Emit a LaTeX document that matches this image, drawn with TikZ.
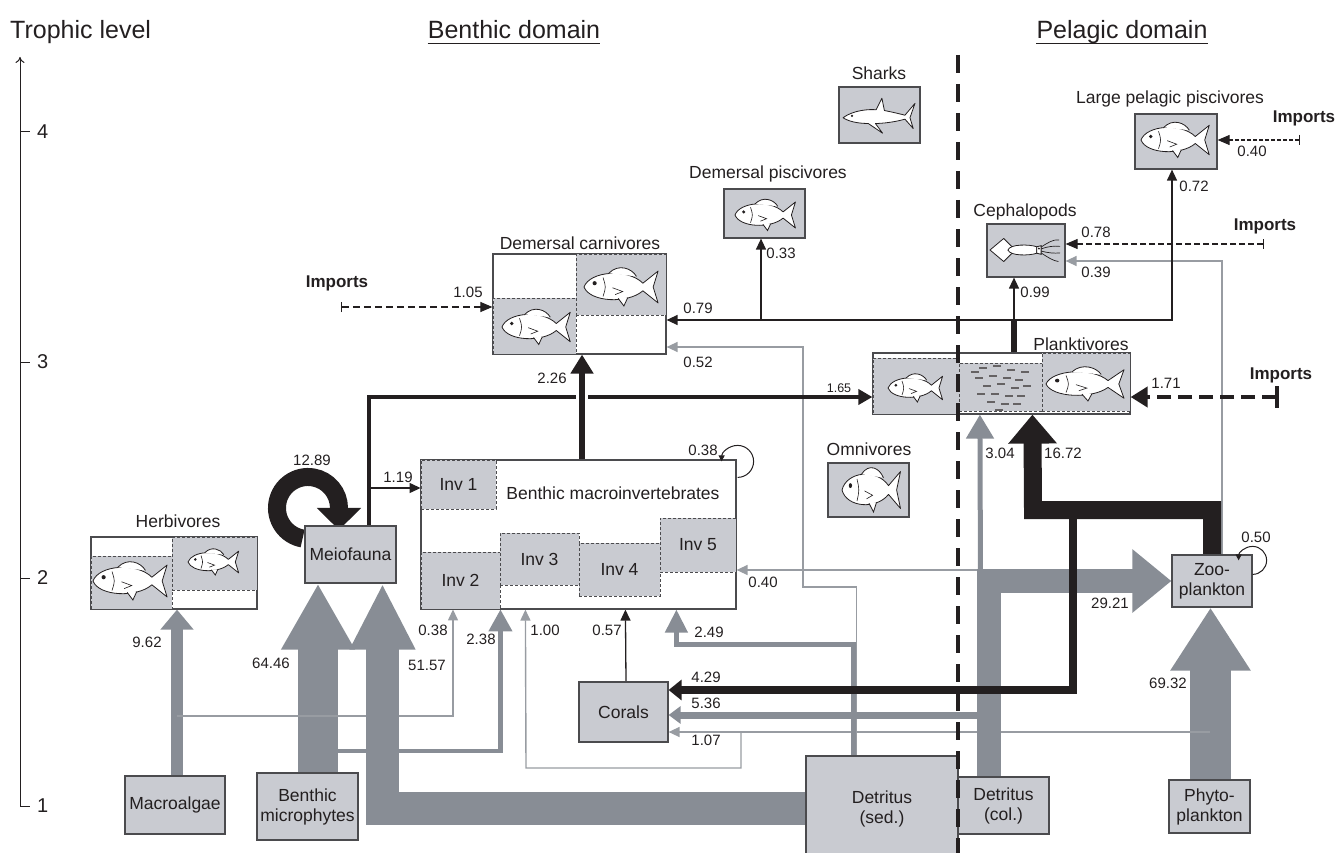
\documentclass[tikz,border=0pt]{standalone}
\usepackage{fontspec}
\setmainfont{Liberation Sans}
\usetikzlibrary{arrows.meta,calc}
\pgfdeclarelayer{bg}
\pgfsetlayers{bg,main}
\definecolor{boxfill}{RGB}{201,203,209}
\definecolor{flowgray}{RGB}{136,141,149}
\definecolor{thingray}{RGB}{152,156,162}
\definecolor{ink}{RGB}{35,31,32}
\definecolor{edgec}{RGB}{75,75,78}
\newcommand{\fsA}{\fontsize{17.5}{20}\selectfont}
\newcommand{\fsN}{\fontsize{15}{17}\selectfont}
\newcommand{\fsS}{\fontsize{12.5}{14}\selectfont}
\newcommand{\fsT}{\fontsize{25}{28}\selectfont}
\newcommand{\fsX}{\fontsize{20}{22}\selectfont}
\newcommand{\fsI}{\fontsize{17}{20}\selectfont\bfseries}
\tikzset{
 fish/.pic={
  \draw[ink, line width=0.8pt, fill=white, line join=round]
   (-1,0) .. controls (-0.85,-0.42) and (0.15,-0.5) .. (0.55,-0.1)
   -- (0.95,-0.42) -- (0.82,0) -- (0.95,0.42) -- (0.55,0.1)
   .. controls (0.15,0.45) and (-0.85,0.4) .. cycle;
  \draw[ink, line width=0.8pt, fill=white] (-0.35,-0.36) .. controls (-0.1,-0.62) and (0.25,-0.5) .. (0.38,-0.28);
  \draw[ink, line width=0.8pt, fill=white] (-0.1,0.3) -- (0.05,0.5) -- (0.15,0.28);
  \fill[ink] (-0.72,-0.1) circle (0.055);
  \draw[ink, line width=0.6pt] (-0.5,-0.25) .. controls (-0.42,0) .. (-0.5,0.25);
  \draw[ink, line width=0.6pt] (-0.25,0.02) -- (0.02,0.12) -- (-0.18,0.2);
 },
 shark/.pic={
  \draw[ink, line width=0.8pt, fill=white, line join=round]
   (-1,0.02) .. controls (-0.7,-0.2) and (-0.25,-0.22) .. (-0.08,-0.2)
   -- (0.08,-0.52) -- (0.15,-0.18)
   .. controls (0.45,-0.12) and (0.6,-0.08) .. (0.72,-0.05)
   -- (1,-0.38) -- (0.86,0.02) -- (0.95,0.32) -- (0.72,0.06)
   .. controls (0.45,0.14) and (0.1,0.18) .. (-0.1,0.18)
   -- (0.1,0.45) -- (-0.3,0.18)
   .. controls (-0.6,0.18) and (-0.85,0.12) .. cycle;
  \fill[ink] (-0.75,-0.03) circle (0.035);
 },
 squid/.pic={
  \draw[ink, line width=0.8pt, fill=white, line join=round] (-1,0) -- (-0.62,-0.32) -- (-0.3,0) -- (-0.62,0.32) -- cycle;
  \draw[ink, line width=0.8pt, fill=white] (-0.5,0) .. controls (-0.45,-0.17) and (0.1,-0.16) .. (0.3,-0.09) -- (0.3,0.09) .. controls (0.1,0.16) and (-0.45,0.17) .. cycle;
  \draw[ink, line width=0.8pt, fill=white] (0.3,-0.09) -- (0.42,-0.12) -- (0.42,0.12) -- (0.3,0.09) -- cycle;
  \draw[ink, line width=0.7pt] (0.42,-0.08) .. controls (0.6,-0.2) and (0.75,-0.3) .. (0.92,-0.28);
  \draw[ink, line width=0.7pt] (0.42,-0.03) .. controls (0.6,-0.1) and (0.8,-0.12) .. (0.95,-0.1);
  \draw[ink, line width=0.7pt] (0.42,0.03) .. controls (0.6,0.08) and (0.8,0.1) .. (0.95,0.08);
  \draw[ink, line width=0.7pt] (0.42,0.08) .. controls (0.6,0.2) and (0.75,0.3) .. (0.9,0.32);
  \fill[ink] (0.36,-0.04) circle (0.03);
 }
}
\begin{document}
\begin{tikzpicture}[x=1pt,y=-1pt,
  box/.style={draw=edgec, line width=1.2pt, fill=boxfill, inner sep=0pt, text=ink, font=\fsA, align=center},
  wbox/.style={draw=edgec, line width=1.2pt, fill=white, inner sep=0pt},
  panel/.style={draw=edgec, line width=0.9pt, dash pattern=on 3pt off 2pt, fill=boxfill, inner sep=0pt, text=ink, font=\fsA},
  lbl/.style={font=\fsN, text=ink, inner sep=0pt},
  ttl/.style={font=\fsA, text=ink, inner sep=0pt},
  imp/.style={font=\fsI, text=ink, inner sep=0pt},
  gflow/.style={draw=flowgray, line join=miter},
  tflow/.style={draw=thingray, line width=1.4pt, -{Triangle[width=10pt,length=11pt]}},
  bflow/.style={draw=ink, line width=1.3pt, -{Triangle[width=10pt,length=11pt]}},
  impline/.style={draw=ink, line width=1.1pt, {Bar[width=10pt]}-{Triangle[width=10pt,length=12pt]}},
]
\useasboundingbox (0,0) rectangle (1335,853);

% ---------- titles and axis ----------
\node[font=\fsT, text=ink, inner sep=0pt, anchor=base west] (tl) at (10,39) {Trophic level};
\node[font=\fsT, text=ink, inner sep=0pt, anchor=base] (bd) at (514,39) {Benthic domain};
\node[font=\fsT, text=ink, inner sep=0pt, anchor=base] (pd) at (1122,39) {Pelagic domain};
\draw[ink, line width=1pt] ($(bd.base west)+(0,5)$) -- ($(bd.base east)+(0,5)$);
\draw[ink, line width=1pt] ($(pd.base west)+(0,5)$) -- ($(pd.base east)+(0,5)$);
\draw[ink, line width=1pt, -{To[length=6pt,width=9pt]}] (20,806) -- (20,57);
\foreach \yy/\tt in {132/4, 362/3, 578/2, 806/1}{
  \draw[ink, line width=1pt] (20,\yy) -- (30,\yy);
  \node[font=\fsX, text=ink, inner sep=0pt, anchor=west] (ax\tt) at (37,\yy) {\tt};
}

% ---------- simple boxes ----------
\node[box, minimum width=100pt, minimum height=58pt] (macro) at (175,805) {Macroalgae};
\node[box, minimum width=101pt, minimum height=67pt] (bmicro) at (307.5,806.5) {Benthic\\microphytes};
\node[box, minimum width=91pt, minimum height=57pt] (meio) at (350.5,554.5) {Meiofauna};
\node[box, minimum width=89pt, minimum height=60pt] (corals) at (623.5,712) {Corals};
\node[box, minimum width=152pt, minimum height=106pt] (detsed) at (882,809) {Detritus\\(sed.)};
\node[box, minimum width=91pt, minimum height=57pt] (detcol) at (1003.5,805.5) {Detritus\\(col.)};
\node[box, minimum width=81pt, minimum height=53pt] (phyto) at (1209.5,806.5) {Phyto-\\plankton};
\node[box, minimum width=80pt, minimum height=52pt] (zoo) at (1212,581) {Zoo-\\plankton};

% ---------- benthic macroinvertebrates ----------
\node[wbox, minimum width=315pt, minimum height=149pt] (bmacro) at (578.5,534.5) {};
\node[panel, minimum width=75pt, minimum height=49pt] (inv1) at (458.5,484.5) {Inv 1};
\node[panel, minimum width=79pt, minimum height=57pt] (inv2) at (460.5,580.5) {Inv 2};
\node[panel, minimum width=79pt, minimum height=52pt] (inv3) at (539.5,559) {Inv 3};
\node[panel, minimum width=81pt, minimum height=53pt] (inv4) at (619.5,569.5) {Inv 4};
\node[panel, minimum width=76pt, minimum height=54pt] (inv5) at (698,545) {Inv 5};
\node[ttl] (bmtext) at (613,493) {Benthic macroinvertebrates};

% ---------- herbivores ----------
\node[wbox, minimum width=166pt, minimum height=72pt] (herb) at (174,573) {};
\node[panel, minimum width=81pt, minimum height=53pt] (herbL) at (131.5,582.5) {};
\node[panel, minimum width=85pt, minimum height=53pt] (herbR) at (214.5,563.5) {};
\node[ttl] (herbt) at (178,521) {Herbivores};
\pic[scale=38] at (131,581) {fish};
\pic[scale=26] at (214,562) {fish};

% ---------- demersal carnivores ----------
\node[wbox, minimum width=173pt, minimum height=100pt] (demcarn) at (579.5,304) {};
\node[panel, minimum width=83pt, minimum height=56pt] (dcL) at (534.5,326) {};
\node[panel, minimum width=90pt, minimum height=61pt] (dcR) at (621,284.5) {};
\node[ttl] (demcarnt) at (580,243) {Demersal carnivores};
\pic[scale=35] at (537,327) {fish};
\pic[scale=38] at (622,287) {fish};

% ---------- planktivores ----------
\node[wbox, minimum width=257pt, minimum height=61pt] (plank) at (1001.5,383.5) {};
\node[panel, minimum width=86pt, minimum height=56pt] (plL) at (916,386) {};
\node[panel, minimum width=83pt, minimum height=48pt] (plM) at (1000.5,387) {};
\node[panel, minimum width=88pt, minimum height=58pt] (plR) at (1086,382) {};
\node[ttl] (plankt) at (1081,344) {Planktivores};
\pic[scale=28] at (916,388) {fish};
\pic[xscale=40, yscale=34] at (1086,384) {fish};
\foreach \dx/\dy in {-18/-18,-4/-20,10/-16,-22/-8,-8/-10,6/-8,18/-6,-14/0,0/-2,14/2,26/0,-20/8,-6/8,8/10,20/10,-10/16,4/18,16/18,-2/24,-26/-14,24/-14}{
  \draw[ink!70, line width=1.6pt] ($(1001,386)+(\dx-4,\dy)$) -- ++(8,0);
}

% ---------- other groups ----------
\node[box, minimum width=81pt, minimum height=49pt] (dempisc) at (764.5,213.5) {};
\node[ttl] (dempisct) at (768,174) {Demersal piscivores};
\pic[scale=31] at (766,215) {fish};
\node[box, minimum width=81pt, minimum height=56pt] (sharks) at (879.5,115) {};
\node[ttl] (sharkst) at (879,73) {Sharks};
\pic[scale=36] at (879,117) {shark};
\node[box, minimum width=78pt, minimum height=53pt] (ceph) at (1026,250.5) {};
\node[ttl] (cepht) at (1025,212) {Cephalopods};
\pic[scale=36] at (1026,250) {squid};
\node[box, minimum width=82pt, minimum height=55pt] (large) at (1176,141.5) {};
\node[ttl] (larget) at (1170,99) {Large pelagic piscivores};
\pic[scale=35] at (1176,140) {fish};
\node[box, minimum width=81pt, minimum height=54pt] (omni) at (868.5,490) {};
\node[ttl] (omnit) at (869,449) {Omnivores};
\pic[xscale=30, yscale=44] at (872,490) {fish};

% ---------- flows (below boxes) ----------
\begin{pgfonlayer}{bg}
% thick gray
\draw[gflow, line width=12pt, -{Triangle[width=32pt,length=20pt]}] ($(macro.north)+(2,0)$) -- ($(herb.south)+(3,0)$);
\draw[gflow, line width=40pt, -{Triangle[width=69pt,length=66pt]}] ($(bmicro.north)+(10.5,0)$) -- ($(meio.south)+(-32.5,0)$);
\draw[gflow, line width=41pt, -{Triangle[width=76pt,length=63pt]}] ($(phyto.north)+(1,0)$) -- ($(zoo.south)+(-1.5,0)$);
% thin gray
\coordinate (c038) at (177,716);
\draw[tflow] (c038) -| ($(inv2.south)+(-7.5,0)$);
\coordinate (c107) at (1210,732);
\draw[tflow] (c107) -- (corals.east |- c107);
\coordinate (c100) at (741,732);
\draw[tflow] (c100) |- (526,768) -- ($(bmacro.south west)+(105,0)$);
\coordinate (c040) at (985,570);
\draw[tflow] (c040) -- (bmacro.east |- c040);
\draw[tflow] ($(detsed.north west)+(51,0)$) |- (803,587) |- ($(demcarn.east)+(0,43)$);
\draw[tflow] ($(zoo.north)+(10,0)$) |- ($(ceph.east)+(0,10.5)$);
% medium gray
\coordinate (c238) at (318,751);
\draw[gflow, line width=4.5pt, -{Triangle[width=23pt,length=22pt]}] (c238) -| (inv2.south east);
\draw[gflow, line width=4.5pt, -{Triangle[width=22pt,length=23pt]}] ($(detsed.north west)+(48,0)$) |- ($(bmacro.south west)+(256,35)$) -- ($(bmacro.south west)+(256,0)$);
\coordinate (c536) at (985,715);
\draw[gflow, line width=7pt, -{Triangle[width=17pt,length=12pt]}] (c536) -- (corals.east |- c536);
% big bands
\draw[gflow, line width=33pt, -{Triangle[width=61pt,length=66pt]}] ($(detsed.west)+(0,-1)$) -| ($(meio.south)+(32,0)$);
\draw[gflow, line width=23.5pt, -{Triangle[width=61pt,length=39pt]}] ($(detcol.north west)+(31.5,0)$) |- (zoo.west);
\coordinate (c304) at (980.5,585);
\draw[gflow, line width=5pt, -{Triangle[width=27pt,length=24pt]}] (c304) -- ($(plank.south west)+(107.5,0)$);
% black flows
\coordinate (c1672) at (1033,510);
\draw[ink, line width=18pt, line join=miter, -{Triangle[width=47pt,length=29pt]}] (zoo.north) |- (c1672) -- ($(plank.south west)+(160,0)$);
\coordinate (c429) at (1073,512);
\draw[ink, line width=8pt, line join=miter, -{Triangle[width=20pt,length=13pt]}] (c429) |- ($(corals.east)+(0,-22)$);
\draw[ink, line width=4pt, line join=miter, -{Triangle[width=15pt,length=14pt]}] ($(meio.north)+(18.5,0)$) |- ($(plank.west)+(0,13.5)$);
\coordinate (c119) at (369,488);
\draw[bflow] (c119) -- (inv1.west |- c119);
\draw[bflow] ($(corals.north)+(2.5,0)$) -- ($(bmacro.south west)+(205,0)$);
\draw[white, line width=12pt] ($(bmacro.north)+(3.5,-50)$) -- ($(bmacro.north)+(3.5,-80)$);
\draw[ink, line width=6pt, -{Triangle[width=22pt,length=19pt]}] ($(bmacro.north)+(3.5,0)$) -- ($(demcarn.south)+(2.5,0)$);
\coordinate (c320) at (1014,320);
\draw[ink, line width=6pt] ($(plank.north)+(12.5,0)$) -- (c320);
\draw[bflow] (c320) -- ($(demcarn.east)+(0,16)$);
\coordinate (c033) at (761,320);
\draw[bflow] (c033) -- (dempisc.south -| c033);
\draw[bflow] (c320) -- (ceph.south -| c320);
\draw[bflow] (c320) -| ($(large.south)+(-4,0)$);
% self loops
\draw[ink, line width=18pt, -{Triangle[width=43pt,length=22pt]}] (302.6,538.5) arc[start angle=100, end angle=360, radius=31] -- ++(0,22);
\end{pgfonlayer}
\draw[ink, line width=1pt, -{Triangle[width=6pt,length=6pt]}] ($(bmacro.north east)+(1,18)$) arc[start angle=90, end angle=-180, radius=16];
\draw[ink, line width=1pt, -{Triangle[width=6pt,length=6pt]}] ($(zoo.north east)+(0,20)$) arc[start angle=90, end angle=-180, radius=14];

% ---------- imports ----------
\node[imp] (imp1) at (337,283) {Imports};
\coordinate (i1) at (341,307);
\draw[impline, dash pattern=on 7pt off 4pt] (i1) -- (demcarn.west |- i1);
\node[imp] (imp2) at (1304,118) {Imports};
\coordinate (i2) at (1300,140);
\draw[impline, dash pattern=on 4pt off 2pt] (i2) -- (large.east |- i2);
\node[imp] (imp3) at (1265,226) {Imports};
\coordinate (i3) at (1264,244);
\draw[impline, dash pattern=on 6pt off 3pt] (i3) -- (ceph.east |- i3);
\node[imp] (imp4) at (1281,375) {Imports};
\coordinate (i4) at (1279,397);
\draw[ink, line width=4pt, dash pattern=on 14pt off 7pt, {Bar[width=22pt]}-{Triangle[width=20pt,length=17pt]}] (i4) -- (plank.east |- i4);

% ---------- flow labels ----------
\node[lbl] (n1) at (147,642) {9.62};
\node[lbl] (n2) at (271,663) {64.46};
\node[lbl] (n3) at (427,665) {51.57};
\node[lbl] (n4) at (312,460) {12.89};
\node[lbl] (n5) at (398,477) {1.19};
\node[lbl] (n6) at (433,630) {0.38};
\node[lbl] (n7) at (481,639) {2.38};
\node[lbl] (n8) at (545,630) {1.00};
\node[lbl] (n9) at (607,630) {0.57};
\node[lbl] (n10) at (709,632) {2.49};
\node[lbl] (n11) at (703,450) {0.38};
\node[lbl] (n12) at (763,582) {0.40};
\node[lbl] (n13) at (706,677) {4.29};
\node[lbl] (n14) at (706,703) {5.36};
\node[lbl] (n15) at (706,740) {1.07};
\node[lbl] (n16) at (552,378) {2.26};
\node[lbl] (n17) at (468,292) {1.05};
\node[lbl] (n18) at (698,308) {0.79};
\node[lbl] (n19) at (698,362) {0.52};
\node[lbl, font=\fsS] (n20) at (839,388) {1.65};
\node[lbl] (n21) at (781,253) {0.33};
\node[lbl] (n22) at (1035,292) {0.99};
\node[lbl] (n23) at (1194,186) {0.72};
\node[lbl] (n24) at (1096,232) {0.78};
\node[lbl] (n25) at (1096,272) {0.39};
\node[lbl] (n26) at (1252,151) {0.40};
\node[lbl] (n27) at (1166,383) {1.71};
\node[lbl] (n28) at (1000,453) {3.04};
\node[lbl] (n29) at (1063,453) {16.72};
\node[lbl] (n30) at (1256,537) {0.50};
\node[lbl] (n31) at (1110,603) {29.21};
\node[lbl] (n32) at (1168,683) {69.32};

% ---------- domain divider ----------
\draw[ink, line width=4.5pt, dash pattern=on 18pt off 11pt] (958,55) -- (958,860);
\end{tikzpicture}
\end{document}
